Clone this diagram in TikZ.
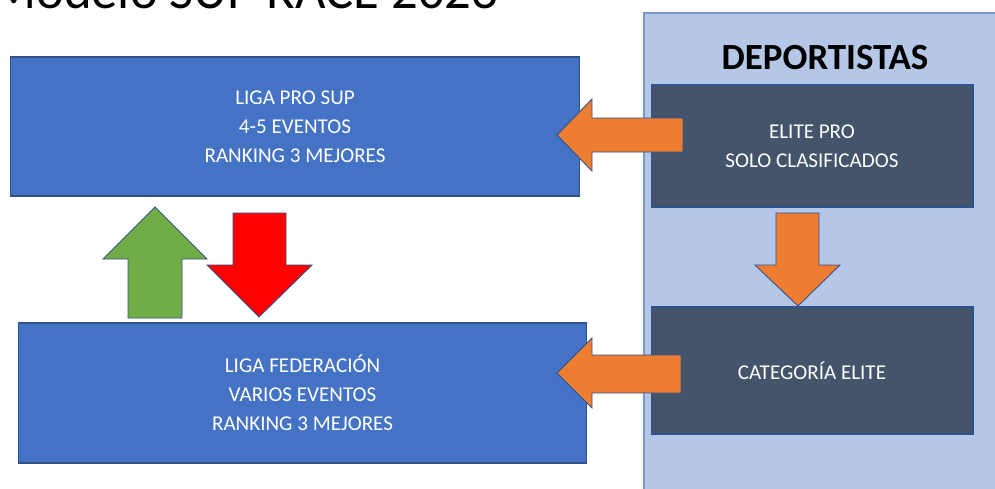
\documentclass[tikz,border=0pt]{standalone}
\usepackage{fontspec}
\setmainfont{Carlito}
\definecolor{ligablue}{HTML}{4472C4}
\definecolor{ligaedge}{HTML}{2F528F}
\definecolor{panelblue}{HTML}{B4C7E7}
\definecolor{paneledge}{HTML}{7A98CF}
\definecolor{slate}{HTML}{44546A}
\definecolor{naranja}{HTML}{ED7D31}
\definecolor{verde}{HTML}{70AD47}
\definecolor{rojo}{HTML}{FF0000}

\begin{document}
\begin{tikzpicture}[x=0.02cm,y=-0.02cm]
    \tikzstyle{liga}=[fill=ligablue,draw=ligaedge,line width=0.6pt,text=white,
                      align=center,inner sep=0pt,font=\fontsize{12}{16.4}\selectfont]
    \tikzstyle{nivel}=[liga,fill=slate]
    \tikzstyle{flecha}=[draw=ligaedge,line width=0.5pt,line join=miter]
    \useasboundingbox (0,0) rectangle (995,488);
    \clip (0,0) rectangle (995,488);
    \node[anchor=base west,font=\fontsize{30}{36}\selectfont](titulo)at(-15,8){Modelo SUP RACE 2023};
    \node[fill=panelblue,draw=paneledge,line width=1.2pt,anchor=north west,
          minimum width=7.4cm,minimum height=10cm](panel)at(643,12){};
    \node[font=\bfseries\fontsize{21}{25}\selectfont](deportistas)at(825,58){DEPORTISTAS};
    \draw node[liga,minimum width=11.4cm,minimum height=2.78cm](pro)at(295,126.5)
               {LIGA PRO SUP\\4-5 EVENTOS\\RANKING 3 MEJORES}
          node[liga,minimum width=11.38cm,minimum height=2.8cm](fed)at(302.5,393)
               {LIGA FEDERACIÓN\\VARIOS EVENTOS\\RANKING 3 MEJORES}
          node[nivel,minimum width=6.44cm,minimum height=2.44cm](elite)at(812,146)
               {ELITE PRO\\SOLO CLASIFICADOS}
          node[nivel,minimum width=6.44cm,minimum height=2.54cm](cat)at(812,370.5)
               {CATEGORÍA ELITE};
    % flechas de bloque
    \draw[flecha,fill=naranja](557,135)--(592,99)--(592,118)--(683,118)
          --(683,152)--(592,152)--(592,171)--cycle;
    \draw[flecha,fill=naranja](557,373)--(592,338)--(592,355)--(681,355)
          --(681,393)--(592,393)--(592,408)--cycle;
    \draw[flecha,fill=naranja](776,213)--(819,213)--(819,265)--(840,265)
          --(798,306)--(755,265)--(776,265)--cycle;
    \draw[flecha,fill=verde](155,207)--(207,259)--(182,259)--(182,318)
          --(128,318)--(128,259)--(103,259)--cycle;
    \draw[flecha,fill=rojo](233,213)--(286,213)--(286,265)--(312,265)
          --(259,317)--(207,265)--(233,265)--cycle;
\end{tikzpicture}
\end{document}
